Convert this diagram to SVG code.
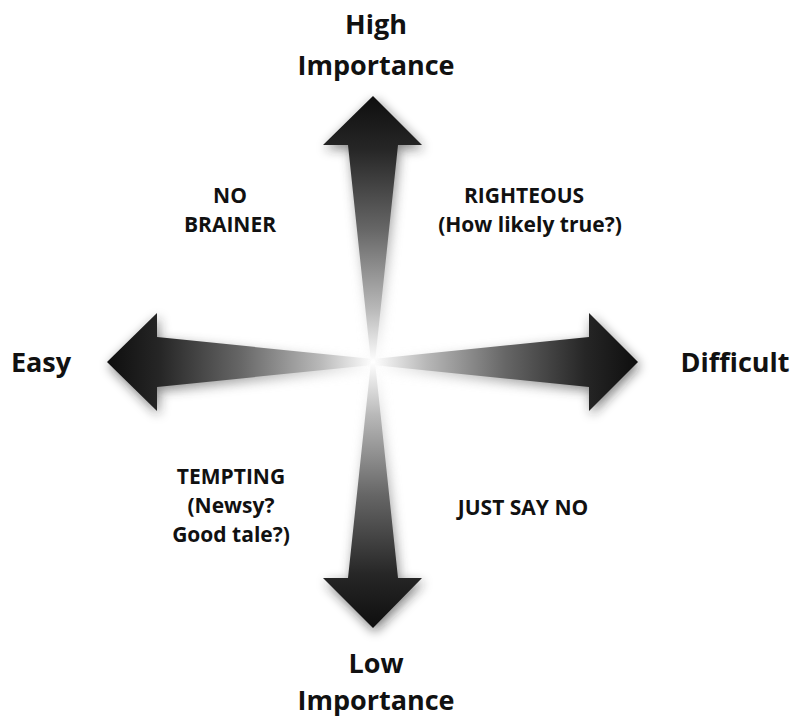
<svg xmlns="http://www.w3.org/2000/svg" width="791" height="719" viewBox="0 0 791 719">
<defs>
<style>
.lbl{font-family:"Open Sans","Noto Sans","Liberation Sans",sans-serif;font-weight:700;fill:#111;text-anchor:middle}
.axis{font-size:27px}
.quad{font-size:21px}
.shadow{filter:url(#blur);opacity:0.55}
</style>
<filter id="blur" x="-30%" y="-30%" width="160%" height="160%"><feGaussianBlur stdDeviation="6"/></filter>
<linearGradient id="gUp" gradientUnits="userSpaceOnUse" x1="373" y1="96" x2="373" y2="362">
<stop offset="0" stop-color="#0e0e0e"/><stop offset="0.2" stop-color="#262626"/><stop offset="0.5" stop-color="#666"/><stop offset="0.8" stop-color="#b8b8b8"/><stop offset="1" stop-color="#fff"/>
</linearGradient>
<linearGradient id="gDown" gradientUnits="userSpaceOnUse" x1="373" y1="628" x2="373" y2="362">
<stop offset="0" stop-color="#0e0e0e"/><stop offset="0.2" stop-color="#262626"/><stop offset="0.5" stop-color="#666"/><stop offset="0.8" stop-color="#b8b8b8"/><stop offset="1" stop-color="#fff"/>
</linearGradient>
<linearGradient id="gLeft" gradientUnits="userSpaceOnUse" x1="107" y1="362" x2="373" y2="362">
<stop offset="0" stop-color="#0e0e0e"/><stop offset="0.2" stop-color="#262626"/><stop offset="0.5" stop-color="#666"/><stop offset="0.8" stop-color="#b8b8b8"/><stop offset="1" stop-color="#fff"/>
</linearGradient>
<linearGradient id="gRight" gradientUnits="userSpaceOnUse" x1="638" y1="362" x2="373" y2="362">
<stop offset="0" stop-color="#0e0e0e"/><stop offset="0.2" stop-color="#262626"/><stop offset="0.5" stop-color="#666"/><stop offset="0.8" stop-color="#b8b8b8"/><stop offset="1" stop-color="#fff"/>
</linearGradient>
<polygon id="pUp" points="371,362 348,145 323,145 373,96 422,145 398,145 375,362"/>
<polygon id="pDown" points="371,362 348,578 323,578 373,628 422,578 398,578 375,362"/>
<polygon id="pLeft" points="373,359 157,337 157,313 107,362 157,411 157,387 373,365"/>
<polygon id="pRight" points="373,359 589,337 589,313 638,362 589,411 589,387 373,365"/>
</defs>
<rect width="791" height="719" fill="#fff"/>
<g id="connectors">
<g id="arrow-left"><use href="#pLeft" fill="url(#gLeft)" class="shadow" transform="translate(2,4)"/><use href="#pLeft" fill="url(#gLeft)"/></g>
<g id="arrow-right"><use href="#pRight" fill="url(#gRight)" class="shadow" transform="translate(2,4)"/><use href="#pRight" fill="url(#gRight)"/></g>
<g id="arrow-up"><use href="#pUp" fill="url(#gUp)" class="shadow" transform="translate(2,4)"/><use href="#pUp" fill="url(#gUp)"/></g>
<g id="arrow-down"><use href="#pDown" fill="url(#gDown)" class="shadow" transform="translate(2,4)"/><use href="#pDown" fill="url(#gDown)"/></g>
</g>
<g id="high-importance" class="lbl axis"><text x="376" y="34">High</text><text x="376" y="75">Importance</text></g>
<g id="low-importance" class="lbl axis"><text x="376" y="673">Low</text><text x="376" y="710">Importance</text></g>
<g id="easy" class="lbl axis"><text x="41" y="372">Easy</text></g>
<g id="difficult" class="lbl axis"><text x="735" y="372">Difficult</text></g>
<g id="no-brainer" class="lbl quad"><text x="230" y="203">NO</text><text x="230" y="232">BRAINER</text></g>
<g id="righteous" class="lbl quad"><text x="524" y="203">RIGHTEOUS</text><text x="530" y="232">(How likely true?)</text></g>
<g id="tempting" class="lbl quad"><text x="231" y="484">TEMPTING</text><text x="231" y="513">(Newsy?</text><text x="231" y="542">Good tale?)</text></g>
<g id="just-say-no" class="lbl quad"><text x="523" y="515">JUST SAY NO</text></g>
</svg>
